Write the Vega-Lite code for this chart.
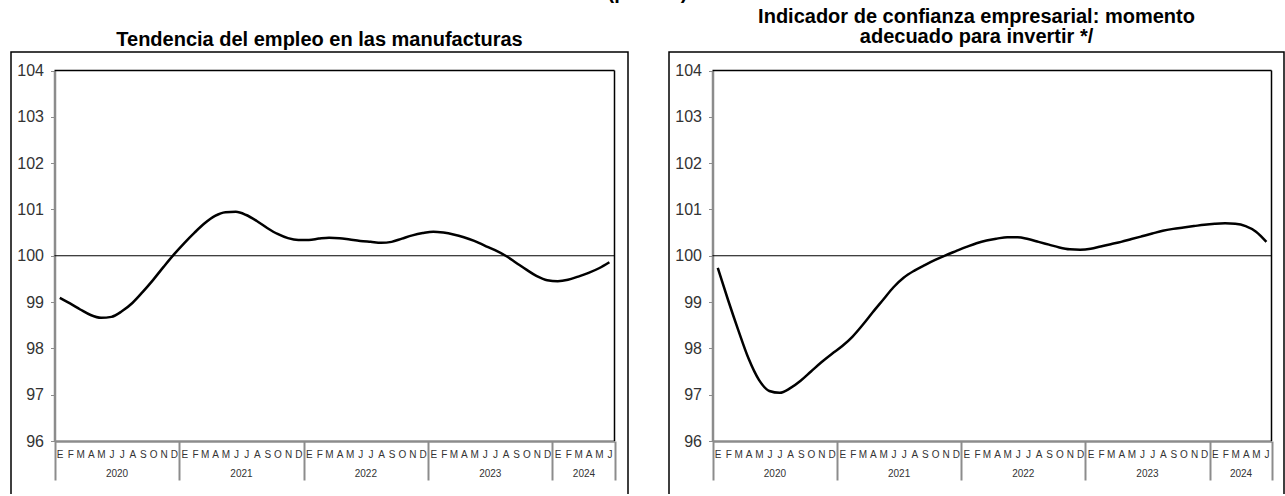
{
  "$schema": "https://vega.github.io/schema/vega-lite/v6.json",
  "background": "white",
  "padding": {"left": 10, "top": -17, "right": 0, "bottom": -5},
  "title": {"text": "(puntos)", "fontSize": 20, "fontWeight": "bold", "anchor": "middle", "offset": 3, "color": "#000"},
  "datasets": {
    "empleo": [
      {"fecha": "2020-01", "valor": 99.09}, {"fecha": "2020-02", "valor": 98.97}, {"fecha": "2020-03", "valor": 98.84}, {"fecha": "2020-04", "valor": 98.72},
      {"fecha": "2020-05", "valor": 98.66}, {"fecha": "2020-06", "valor": 98.68}, {"fecha": "2020-07", "valor": 98.80}, {"fecha": "2020-08", "valor": 98.98},
      {"fecha": "2020-09", "valor": 99.22}, {"fecha": "2020-10", "valor": 99.48}, {"fecha": "2020-11", "valor": 99.76}, {"fecha": "2020-12", "valor": 100.03},
      {"fecha": "2021-01", "valor": 100.28}, {"fecha": "2021-02", "valor": 100.50}, {"fecha": "2021-03", "valor": 100.70}, {"fecha": "2021-04", "valor": 100.86},
      {"fecha": "2021-05", "valor": 100.94}, {"fecha": "2021-06", "valor": 100.95}, {"fecha": "2021-07", "valor": 100.88}, {"fecha": "2021-08", "valor": 100.75},
      {"fecha": "2021-09", "valor": 100.60}, {"fecha": "2021-10", "valor": 100.47}, {"fecha": "2021-11", "valor": 100.38}, {"fecha": "2021-12", "valor": 100.34},
      {"fecha": "2022-01", "valor": 100.34}, {"fecha": "2022-02", "valor": 100.37}, {"fecha": "2022-03", "valor": 100.39}, {"fecha": "2022-04", "valor": 100.38},
      {"fecha": "2022-05", "valor": 100.35}, {"fecha": "2022-06", "valor": 100.32}, {"fecha": "2022-07", "valor": 100.30}, {"fecha": "2022-08", "valor": 100.28},
      {"fecha": "2022-09", "valor": 100.30}, {"fecha": "2022-10", "valor": 100.37}, {"fecha": "2022-11", "valor": 100.44}, {"fecha": "2022-12", "valor": 100.49},
      {"fecha": "2023-01", "valor": 100.52}, {"fecha": "2023-02", "valor": 100.50}, {"fecha": "2023-03", "valor": 100.46}, {"fecha": "2023-04", "valor": 100.40},
      {"fecha": "2023-05", "valor": 100.32}, {"fecha": "2023-06", "valor": 100.22}, {"fecha": "2023-07", "valor": 100.12}, {"fecha": "2023-08", "valor": 100.00},
      {"fecha": "2023-09", "valor": 99.85}, {"fecha": "2023-10", "valor": 99.70}, {"fecha": "2023-11", "valor": 99.56}, {"fecha": "2023-12", "valor": 99.47},
      {"fecha": "2024-01", "valor": 99.45}, {"fecha": "2024-02", "valor": 99.48}, {"fecha": "2024-03", "valor": 99.55}, {"fecha": "2024-04", "valor": 99.63},
      {"fecha": "2024-05", "valor": 99.73}, {"fecha": "2024-06", "valor": 99.86}
    ],
    "inversion": [
      {"fecha": "2020-01", "valor": 99.74}, {"fecha": "2020-02", "valor": 99.05}, {"fecha": "2020-03", "valor": 98.40}, {"fecha": "2020-04", "valor": 97.78},
      {"fecha": "2020-05", "valor": 97.32}, {"fecha": "2020-06", "valor": 97.08}, {"fecha": "2020-07", "valor": 97.04}, {"fecha": "2020-08", "valor": 97.14},
      {"fecha": "2020-09", "valor": 97.30}, {"fecha": "2020-10", "valor": 97.50}, {"fecha": "2020-11", "valor": 97.70}, {"fecha": "2020-12", "valor": 97.88},
      {"fecha": "2021-01", "valor": 98.05}, {"fecha": "2021-02", "valor": 98.25}, {"fecha": "2021-03", "valor": 98.50}, {"fecha": "2021-04", "valor": 98.78},
      {"fecha": "2021-05", "valor": 99.05}, {"fecha": "2021-06", "valor": 99.32}, {"fecha": "2021-07", "valor": 99.53}, {"fecha": "2021-08", "valor": 99.68},
      {"fecha": "2021-09", "valor": 99.80}, {"fecha": "2021-10", "valor": 99.91}, {"fecha": "2021-11", "valor": 100.01}, {"fecha": "2021-12", "valor": 100.10},
      {"fecha": "2022-01", "valor": 100.19}, {"fecha": "2022-02", "valor": 100.27}, {"fecha": "2022-03", "valor": 100.33}, {"fecha": "2022-04", "valor": 100.37},
      {"fecha": "2022-05", "valor": 100.40}, {"fecha": "2022-06", "valor": 100.40}, {"fecha": "2022-07", "valor": 100.36}, {"fecha": "2022-08", "valor": 100.30},
      {"fecha": "2022-09", "valor": 100.24}, {"fecha": "2022-10", "valor": 100.18}, {"fecha": "2022-11", "valor": 100.14}, {"fecha": "2022-12", "valor": 100.13},
      {"fecha": "2023-01", "valor": 100.15}, {"fecha": "2023-02", "valor": 100.20}, {"fecha": "2023-03", "valor": 100.25}, {"fecha": "2023-04", "valor": 100.30},
      {"fecha": "2023-05", "valor": 100.36}, {"fecha": "2023-06", "valor": 100.42}, {"fecha": "2023-07", "valor": 100.48}, {"fecha": "2023-08", "valor": 100.54},
      {"fecha": "2023-09", "valor": 100.58}, {"fecha": "2023-10", "valor": 100.61}, {"fecha": "2023-11", "valor": 100.64}, {"fecha": "2023-12", "valor": 100.67},
      {"fecha": "2024-01", "valor": 100.69}, {"fecha": "2024-02", "valor": 100.70}, {"fecha": "2024-03", "valor": 100.69}, {"fecha": "2024-04", "valor": 100.64},
      {"fecha": "2024-05", "valor": 100.52}, {"fecha": "2024-06", "valor": 100.30}
    ]
  },
  "bounds": "flush",
  "spacing": 41,
  "hconcat": [
    {
      "width": 617,
      "height": 446,
      "title": {"text": "Tendencia del empleo en las manufacturas", "fontSize": 20, "fontWeight": "bold", "anchor": "middle", "frame": "group", "offset": 2, "color": "#000"},
      "resolve": {"axis": {"x": "independent", "y": "independent"}},
      "layer": [
        {
          "data": {"values": [{}]},
          "mark": {"type": "rule", "color": "#000", "strokeWidth": 1},
          "encoding": {
            "x": {"datum": {"year": 2020, "month": 1, "date": 1, "utc": true}, "type": "temporal",
                  "scale": {"type": "utc", "domain": [{"year": 2020, "month": 1, "date": 1, "utc": true}, {"year": 2024, "month": 7, "date": 1, "utc": true}], "range": [43.5, 603.5]},
                  "axis": {"orient": "bottom", "offset": -57, "title": null, "grid": false, "labels": false, "domain": false, "ticks": true, "tickSize": 39, "tickWidth": 2, "tickColor": "#8c8c8c",
                           "values": [{"year": 2020, "month": 1, "date": 1, "utc": true}, {"year": 2021, "month": 1, "date": 1, "utc": true}, {"year": 2022, "month": 1, "date": 1, "utc": true}, {"year": 2023, "month": 1, "date": 1, "utc": true}, {"year": 2024, "month": 1, "date": 1, "utc": true}, {"year": 2024, "month": 7, "date": 1, "utc": true}]}},
            "x2": {"datum": {"year": 2024, "month": 7, "date": 1, "utc": true}},
            "y": {"datum": 100, "type": "quantitative", "scale": {"domain": [96, 104], "range": [389, 18.5], "zero": false, "nice": false},
                  "axis": {"orient": "left", "offset": -43.5, "title": null, "grid": false, "values": [96, 97, 98, 99, 100, 101, 102, 103, 104], "domain": true, "domainColor": "#8c8c8c", "domainWidth": 2.5, "ticks": true, "tickColor": "#8c8c8c", "tickSize": 4, "labels": true, "labelFontSize": 16, "labelColor": "#333", "labelPadding": 7}}
          }
        },
        {
          "data": {"values": [{}]},
          "mark": {"type": "rule", "color": "#000", "strokeWidth": 1.5},
          "encoding": {
            "x": {"datum": {"year": 2020, "month": 1, "date": 1, "utc": true}, "type": "temporal",
                  "axis": {"orient": "bottom", "offset": -57, "title": null, "grid": false, "ticks": false, "domain": false, "labelPadding": 27, "labelFontSize": 10, "labelColor": "#333", "labelFlush": false, "labelOverlap": false, "labelBound": false,
                           "labelExpr": "utcFormat(datum.value, '%Y')",
                           "values": [{"year": 2020, "month": 7, "date": 1, "utc": true}, {"year": 2021, "month": 7, "date": 1, "utc": true}, {"year": 2022, "month": 7, "date": 1, "utc": true}, {"year": 2023, "month": 7, "date": 1, "utc": true}, {"year": 2024, "month": 4, "date": 1, "utc": true}]}},
            "x2": {"datum": {"year": 2024, "month": 7, "date": 1, "utc": true}},
            "y": {"datum": 104, "type": "quantitative", "axis": null}
          }
        },
        {
          "data": {"values": [{}]},
          "mark": {"type": "rule", "color": "#000", "strokeWidth": 1.5},
          "encoding": {
            "x": {"datum": {"year": 2024, "month": 7, "date": 1, "utc": true}, "type": "temporal", "axis": null},
            "y": {"datum": 96, "type": "quantitative", "axis": null},
            "y2": {"datum": 104}
          }
        },
        {
          "data": {"name": "empleo"},
          "mark": {"type": "line", "color": "#000", "strokeWidth": 2.5, "interpolate": "monotone"},
          "encoding": {
            "x": {"field": "fecha", "type": "temporal", "timeUnit": "utcyearmonth", "bandPosition": 0.5,
                  "axis": {"orient": "bottom", "offset": -57, "title": null, "grid": false, "ticks": false, "domain": true, "domainColor": "#8c8c8c", "domainWidth": 2.5,
                           "tickCount": {"interval": "month", "step": 1}, "labelFontSize": 10, "labelColor": "#333", "labelPadding": 8, "labelOffset": 5.2, "labelAlign": "center",
                           "labelOverlap": false, "labelFlush": false, "labelBound": false,
                           "labelExpr": "(utcyear(datum.value) > 2024 || (utcyear(datum.value) == 2024 && utcmonth(datum.value) > 5)) ? '' : ['E','F','M','A','M','J','J','A','S','O','N','D'][utcmonth(datum.value)]"}},
            "y": {"field": "valor", "type": "quantitative", "axis": null}
          }
        }
      ]
    },
    {
      "width": 615,
      "height": 446,
      "title": {"text": ["Indicador de confianza empresarial: momento", "adecuado para invertir */"], "fontSize": 20, "fontWeight": "bold", "anchor": "middle", "frame": "group", "offset": 5, "lineHeight": 20, "color": "#000"},
      "resolve": {"axis": {"x": "independent", "y": "independent"}},
      "layer": [
        {
          "data": {"values": [{}]},
          "mark": {"type": "rule", "color": "#000", "strokeWidth": 1},
          "encoding": {
            "x": {"datum": {"year": 2020, "month": 1, "date": 1, "utc": true}, "type": "temporal",
                  "scale": {"type": "utc", "domain": [{"year": 2020, "month": 1, "date": 1, "utc": true}, {"year": 2024, "month": 7, "date": 1, "utc": true}], "range": [43.5, 602.5]},
                  "axis": {"orient": "bottom", "offset": -57, "title": null, "grid": false, "labels": false, "domain": false, "ticks": true, "tickSize": 39, "tickWidth": 2, "tickColor": "#8c8c8c",
                           "values": [{"year": 2020, "month": 1, "date": 1, "utc": true}, {"year": 2021, "month": 1, "date": 1, "utc": true}, {"year": 2022, "month": 1, "date": 1, "utc": true}, {"year": 2023, "month": 1, "date": 1, "utc": true}, {"year": 2024, "month": 1, "date": 1, "utc": true}, {"year": 2024, "month": 7, "date": 1, "utc": true}]}},
            "x2": {"datum": {"year": 2024, "month": 7, "date": 1, "utc": true}},
            "y": {"datum": 100, "type": "quantitative", "scale": {"domain": [96, 104], "range": [389, 18.5], "zero": false, "nice": false},
                  "axis": {"orient": "left", "offset": -43.5, "title": null, "grid": false, "values": [96, 97, 98, 99, 100, 101, 102, 103, 104], "domain": true, "domainColor": "#8c8c8c", "domainWidth": 2.5, "ticks": true, "tickColor": "#8c8c8c", "tickSize": 4, "labels": true, "labelFontSize": 16, "labelColor": "#333", "labelPadding": 7}}
          }
        },
        {
          "data": {"values": [{}]},
          "mark": {"type": "rule", "color": "#000", "strokeWidth": 1.5},
          "encoding": {
            "x": {"datum": {"year": 2020, "month": 1, "date": 1, "utc": true}, "type": "temporal",
                  "axis": {"orient": "bottom", "offset": -57, "title": null, "grid": false, "ticks": false, "domain": false, "labelPadding": 27, "labelFontSize": 10, "labelColor": "#333", "labelFlush": false, "labelOverlap": false, "labelBound": false,
                           "labelExpr": "utcFormat(datum.value, '%Y')",
                           "values": [{"year": 2020, "month": 7, "date": 1, "utc": true}, {"year": 2021, "month": 7, "date": 1, "utc": true}, {"year": 2022, "month": 7, "date": 1, "utc": true}, {"year": 2023, "month": 7, "date": 1, "utc": true}, {"year": 2024, "month": 4, "date": 1, "utc": true}]}},
            "x2": {"datum": {"year": 2024, "month": 7, "date": 1, "utc": true}},
            "y": {"datum": 104, "type": "quantitative", "axis": null}
          }
        },
        {
          "data": {"values": [{}]},
          "mark": {"type": "rule", "color": "#000", "strokeWidth": 1.5},
          "encoding": {
            "x": {"datum": {"year": 2024, "month": 7, "date": 1, "utc": true}, "type": "temporal", "axis": null},
            "y": {"datum": 96, "type": "quantitative", "axis": null},
            "y2": {"datum": 104}
          }
        },
        {
          "data": {"name": "inversion"},
          "mark": {"type": "line", "color": "#000", "strokeWidth": 2.5, "interpolate": "monotone"},
          "encoding": {
            "x": {"field": "fecha", "type": "temporal", "timeUnit": "utcyearmonth", "bandPosition": 0.5,
                  "axis": {"orient": "bottom", "offset": -57, "title": null, "grid": false, "ticks": false, "domain": true, "domainColor": "#8c8c8c", "domainWidth": 2.5,
                           "tickCount": {"interval": "month", "step": 1}, "labelFontSize": 10, "labelColor": "#333", "labelPadding": 8, "labelOffset": 5.2, "labelAlign": "center",
                           "labelOverlap": false, "labelFlush": false, "labelBound": false,
                           "labelExpr": "(utcyear(datum.value) > 2024 || (utcyear(datum.value) == 2024 && utcmonth(datum.value) > 5)) ? '' : ['E','F','M','A','M','J','J','A','S','O','N','D'][utcmonth(datum.value)]"}},
            "y": {"field": "valor", "type": "quantitative", "axis": null}
          }
        }
      ]
    }
  ],
  "config": {
    "font": "Liberation Sans",
    "view": {"stroke": "#000", "strokeWidth": 1.5, "fill": "white"},
    "axis": {"labelFont": "Liberation Sans"},
    "title": {"font": "Liberation Sans"}
  }
}
